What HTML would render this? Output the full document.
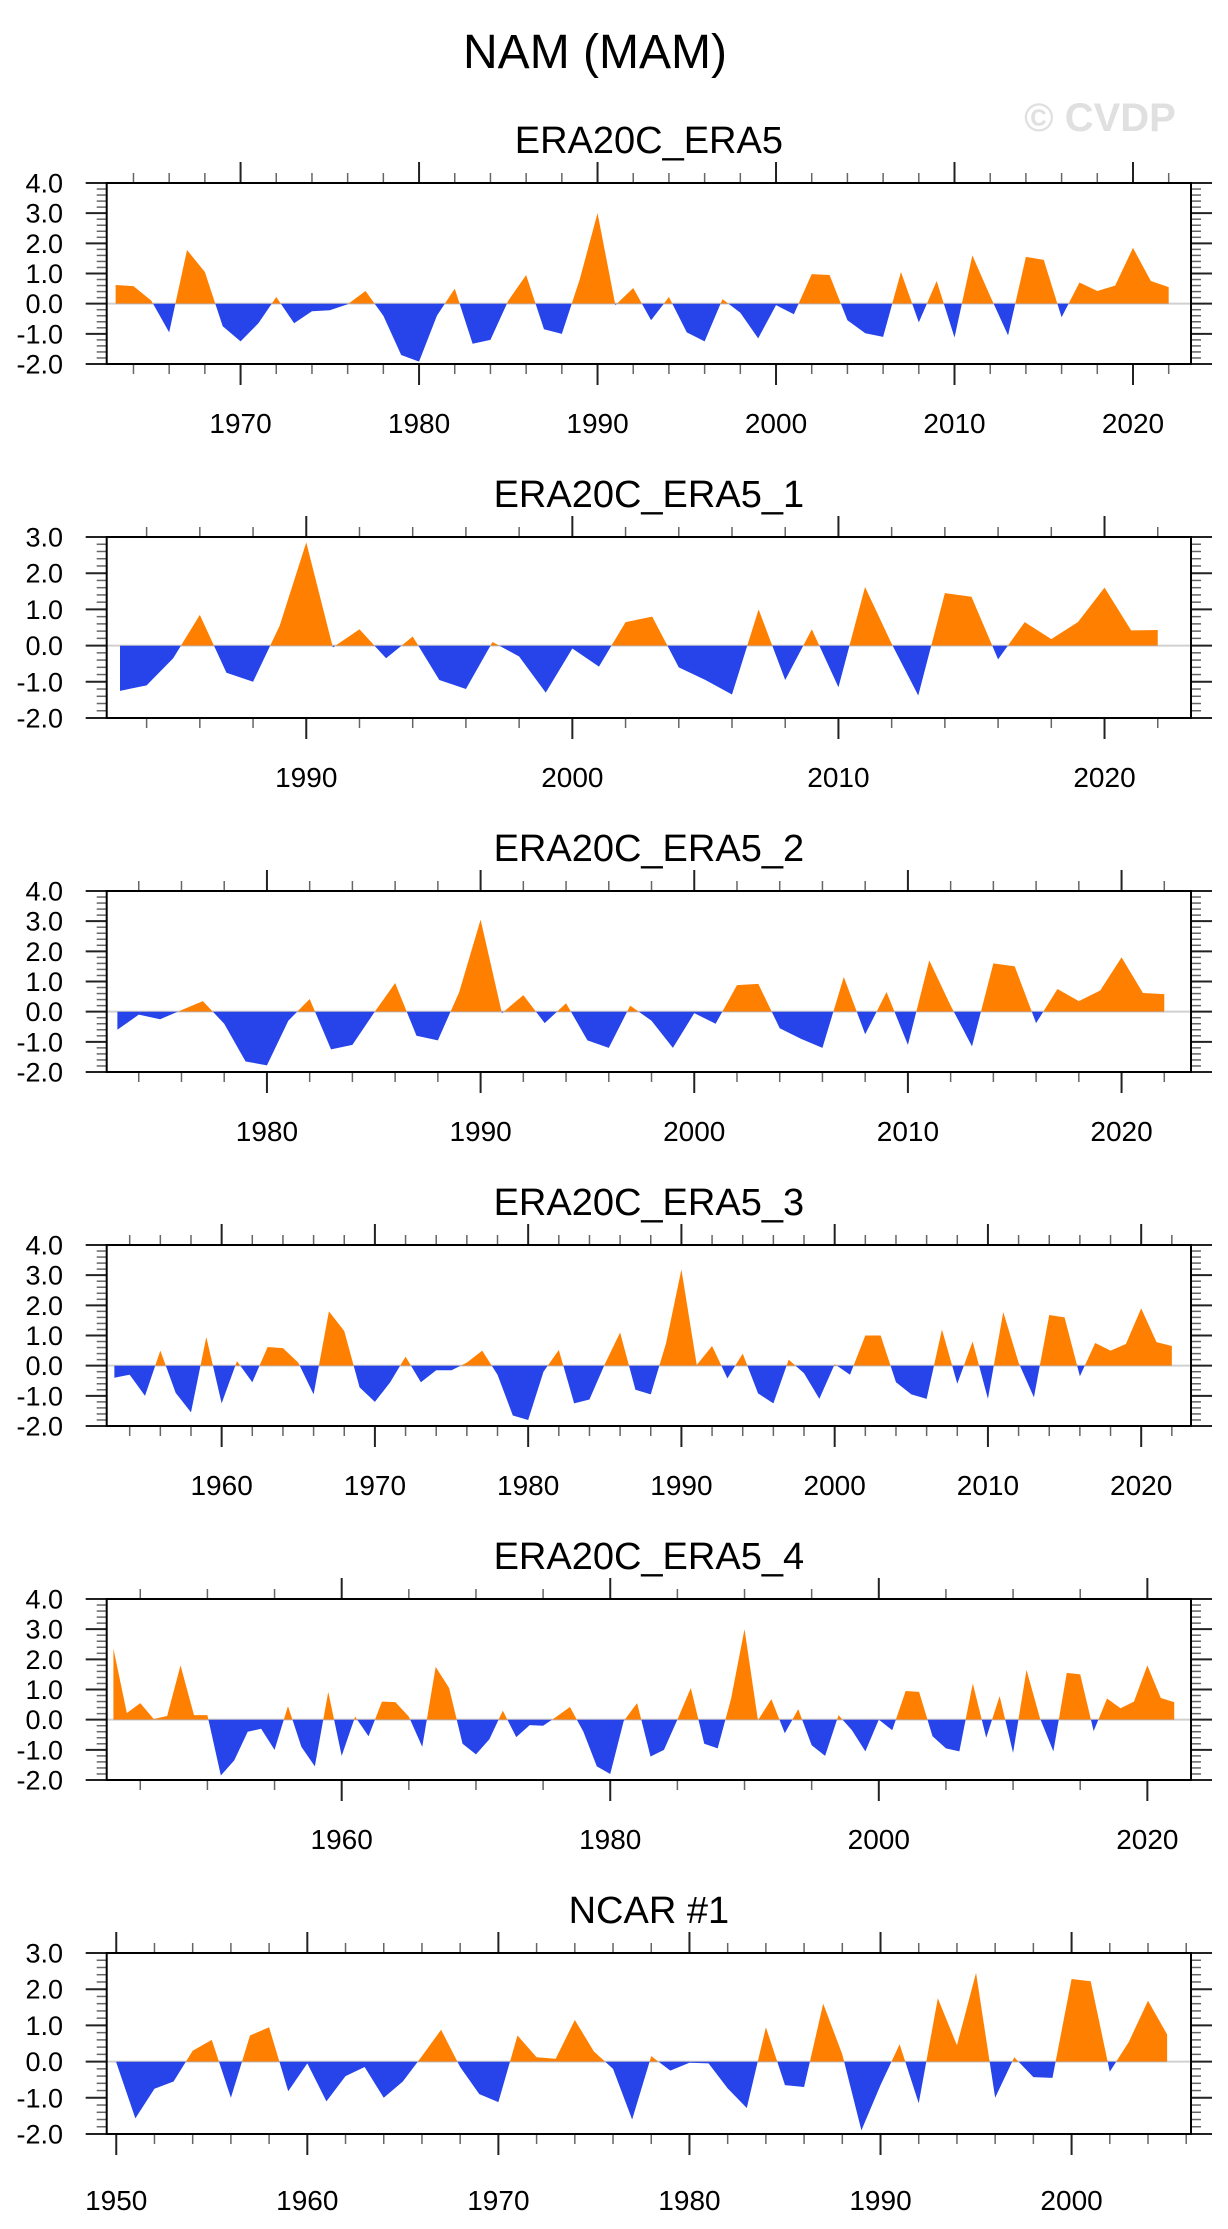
<!DOCTYPE html>
<html><head><meta charset="utf-8"><style>
html,body{margin:0;padding:0;background:#fff;}
svg{display:block;font-family:"Liberation Sans",Arial,sans-serif;}
</style></head><body>
<svg id="fig" width="1228" height="2229" viewBox="0 0 1228 2229" xmlns="http://www.w3.org/2000/svg">
<text x="595" y="68" font-size="48" text-anchor="middle" fill="#000">NAM (MAM)</text>
<text x="1100" y="131" font-size="40" font-weight="bold" text-anchor="middle" fill="#e0e0e0">© CVDP</text>
</svg>
<script>
// ---- data ----
const p1Start = 1963;
const p1Values = [0.62,0.58,0.1,-0.95,1.78,1.05,-0.75,-1.25,-0.65,0.22,-0.65,-0.25,-0.22,-0.02,0.42,-0.4,-1.7,-1.92,-0.4,0.5,-1.33,-1.2,0.1,0.95,-0.85,-1.0,0.8,3.0,-0.05,0.52,-0.55,0.22,-0.95,-1.25,0.15,-0.3,-1.15,-0.05,-0.35,0.98,0.95,-0.55,-0.98,-1.1,1.05,-0.62,0.75,-1.12,1.6,0.25,-1.05,1.55,1.45,-0.45,0.7,0.42,0.6,1.85,0.75,0.55];
const p2Start = 1983;
const p2Values = [-1.25,-1.1,-0.35,0.85,-0.75,-1.0,0.55,2.85,-0.05,0.45,-0.35,0.25,-0.95,-1.2,0.1,-0.3,-1.3,-0.08,-0.58,0.65,0.8,-0.6,-0.95,-1.35,1.0,-0.95,0.45,-1.15,1.62,0.05,-1.38,1.45,1.35,-0.38,0.65,0.18,0.65,1.6,0.42,0.43];
const p3Start = 1973;
const p3Values = [-0.6,-0.1,-0.25,0.05,0.35,-0.4,-1.65,-1.78,-0.3,0.42,-1.25,-1.1,-0.05,0.95,-0.8,-0.95,0.65,3.05,-0.05,0.55,-0.38,0.28,-0.95,-1.2,0.2,-0.3,-1.2,-0.05,-0.4,0.88,0.92,-0.55,-0.9,-1.2,1.15,-0.75,0.65,-1.1,1.7,0.2,-1.15,1.6,1.5,-0.38,0.75,0.35,0.7,1.8,0.62,0.58];
const p4Start = 1953;
const p4Values = [-0.4,-0.3,-1.0,0.5,-0.9,-1.55,0.95,-1.25,0.15,-0.55,0.62,0.58,0.1,-0.95,1.8,1.15,-0.72,-1.2,-0.55,0.3,-0.55,-0.15,-0.15,0.1,0.5,-0.3,-1.65,-1.8,-0.2,0.52,-1.25,-1.12,0.05,1.1,-0.8,-0.95,0.75,3.19,0.02,0.65,-0.42,0.4,-0.92,-1.25,0.2,-0.25,-1.1,0.05,-0.3,1.0,1.0,-0.55,-0.95,-1.1,1.2,-0.6,0.8,-1.1,1.78,0.1,-1.05,1.68,1.6,-0.35,0.75,0.5,0.72,1.9,0.78,0.65];
const p5Start = 1943;
const p5Values = [2.36,0.22,0.55,0.02,0.12,1.8,0.15,0.15,-1.85,-1.35,-0.4,-0.3,-1.0,0.45,-0.9,-1.55,0.92,-1.2,0.1,-0.55,0.6,0.58,0.1,-0.9,1.75,1.05,-0.8,-1.15,-0.65,0.3,-0.58,-0.18,-0.2,0.1,0.42,-0.4,-1.55,-1.8,-0.05,0.55,-1.22,-1.0,0.0,1.05,-0.8,-0.95,0.7,3.0,-0.02,0.68,-0.45,0.35,-0.85,-1.2,0.15,-0.35,-1.05,0.0,-0.35,0.95,0.92,-0.55,-0.95,-1.05,1.2,-0.6,0.78,-1.1,1.65,0.05,-1.05,1.55,1.5,-0.38,0.7,0.38,0.6,1.8,0.72,0.58];
const p6Start = 1950;
const p6Values = [-0.02,-1.57,-0.75,-0.55,0.3,0.6,-1.0,0.72,0.95,-0.82,-0.05,-1.1,-0.4,-0.15,-1.0,-0.55,0.15,0.88,-0.15,-0.9,-1.12,0.72,0.12,0.08,1.15,0.28,-0.2,-1.6,0.15,-0.25,-0.03,-0.05,-0.74,-1.28,0.95,-0.65,-0.7,1.6,0.2,-1.9,-0.65,0.48,-1.15,1.75,0.45,2.45,-1.0,0.12,-0.43,-0.45,2.28,2.22,-0.28,0.55,1.68,0.75];
const titles = ["ERA20C_ERA5","ERA20C_ERA5_1","ERA20C_ERA5_2","ERA20C_ERA5_3","ERA20C_ERA5_4","NCAR #1"];
const yMins = [-2,-2,-2,-2,-2,-2];
const yMaxs = [4,3,4,4,4,3];
const yTickLabels4 = ["-2.0","-1.0","0.0","1.0","2.0","3.0","4.0"];
const yTickLabels3 = ["-2.0","-1.0","0.0","1.0","2.0","3.0"];
const xLabelStep = [10,10,10,10,20,10];
const xMinorStep = [2,2,2,2,5,2];

const starts=[p1Start,p2Start,p3Start,p4Start,p5Start,p6Start];
const vals=[p1Values,p2Values,p3Values,p4Values,p5Values,p6Values];
const NS="http://www.w3.org/2000/svg";
const svg=document.getElementById('fig');
function mk(tag,attrs,parent){const e=document.createElementNS(NS,tag);for(const k in attrs)e.setAttribute(k,attrs[k]);(parent||svg).appendChild(e);return e;}

const L=106.7,R=1191,H=181;
for(let p=0;p<6;p++){
  const top=183+p*354, bot=top+H;
  const v=vals[p], s=starts[p], last=s+v.length-1;
  const xmin=s-0.5, xmax=last+1.25;
  const ymin=yMins[p], ymax=yMaxs[p];
  const X=yr=>L+(yr-xmin)/(xmax-xmin)*(R-L);
  const Y=val=>bot-(val-ymin)/(ymax-ymin)*H;
  const g=mk('g',{});
  
  
  const t=mk('text',{x:(L+R)/2,y:top-30,'font-size':38,'text-anchor':'middle',fill:'#000'},g);
  
  
  t.textContent=titles[p];
  const cu=mk('clipPath',{id:'cu'+p},g); mk('rect',{x:L,y:top,width:R-L,height:Y(0)-top},cu);
  const cd=mk('clipPath',{id:'cd'+p},g); mk('rect',{x:L,y:Y(0),width:R-L,height:bot-Y(0)},cd);
  let pts=[[X(s),Y(0)]];
  v.forEach((d,i)=>pts.push([X(s+i),Y(d)]));
  pts.push([X(last),Y(0)]);
  const ps=pts.map(a=>a[0].toFixed(2)+','+a[1].toFixed(2)).join(' ');
  const zl=mk('line',{x1:L,x2:R,y1:Y(0),y2:Y(0),stroke:'#d0d0d0','stroke-width':2},g);
  
  
  const pu=mk('polygon',{points:ps,fill:'#FF8000','clip-path':'url(#cu'+p+')'},g);
  
  
  const pd=mk('polygon',{points:ps,fill:'#2744EA','clip-path':'url(#cd'+p+')'},g);
  
  
  const labs=ymax===4?yTickLabels4:yTickLabels3;
  for(let k=0;k<=(ymax-ymin)*5;k++){
    const val=ymin+k*0.2, y=Y(val), major=k%5===0, len=major?21:10;
    mk('line',{x1:L-len,x2:L,y1:y,y2:y,stroke:major?'#222':'#666','stroke-width':major?2:1.5},g);
    mk('line',{x1:R,x2:R+len,y1:y,y2:y,stroke:major?'#222':'#666','stroke-width':major?2:1.5},g);
  }
  labs.forEach((lb,i)=>{
    const tt=mk('text',{x:63,y:Y(ymin+i)+9.5,'font-size':27,'text-anchor':'end',fill:'#000'},g);
    
    
    tt.textContent=lb;
  });
  const ms=xMinorStep[p], ls=xLabelStep[p];
  const lblOff = p===5 ? 76 : 69;
  for(let yr=Math.ceil(xmin/ms)*ms; yr<=xmax; yr+=ms){
    const x=X(yr), major=yr%ls===0, len=major?21:10;
    mk('line',{x1:x,x2:x,y1:top-len,y2:top,stroke:major?'#222':'#666','stroke-width':major?2:1.5},g);
    mk('line',{x1:x,x2:x,y1:bot,y2:bot+len,stroke:major?'#222':'#666','stroke-width':major?2:1.5},g);
    if(major){
      const xt=mk('text',{x:x,y:bot+lblOff,'font-size':28,'text-anchor':'middle',fill:'#000'},g);
      
      
      xt.textContent=yr;
    }
  }
  const bx=mk('rect',{x:L,y:top,width:R-L,height:H,fill:'none',stroke:'#000','stroke-width':2},g);
  
  
}
</script>
</body></html>
